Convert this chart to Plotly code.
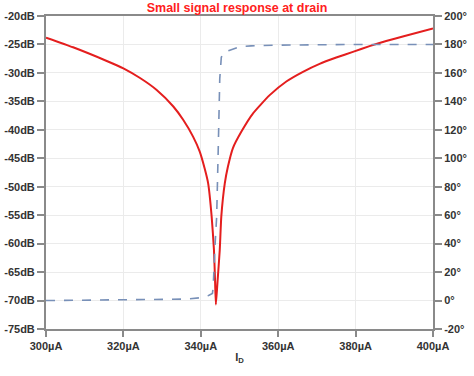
import plotly.graph_objects as go

# Magnitude (dB) vs drain current (µA)
mag_x = [300, 307, 315.7, 320, 324.3, 328.6, 332.9, 335.4, 338, 339.7, 341, 341.9,
         342.8, 343.4, 343.7, 343.9, 344.3, 344.9, 345.3, 346.2, 347.0, 348.3,
         350.5, 353.5, 357.8, 362.1, 366.4, 370.7, 375, 379.3, 383.6, 387.9, 392.2, 400]
mag_db = [-23.8, -25.5, -27.9, -29.2, -30.9, -33.0, -35.9, -38.2, -41.2, -43.8, -46.8, -49.4,
          -55.2, -61.1, -66.9, -70.7, -66.9, -61.1, -55.2, -49.4, -46.5, -43.2,
          -40.3, -37.1, -33.9, -31.5, -29.8, -28.4, -27.3, -26.3, -25.3, -24.4, -23.6, -22.2]

# Phase (degrees) vs drain current (µA)
ph_x = [300, 320, 330, 336, 340, 342, 343, 343.2, 343.6, 344.1, 344.5, 344.9, 345.3,
        346, 347.5, 350.1, 353, 360, 380, 400]
ph_deg = [0, 0.3, 0.6, 1, 2, 3.5, 5, 9, 35, 59, 106, 156, 171,
          174.5, 176, 178.4, 179, 179.5, 180, 180]

x_ticks = [300, 320, 340, 360, 380, 400]
x_labels = ["300µA", "320µA", "340µA", "360µA", "380µA", "400µA"]
db_ticks = [-20, -25, -30, -35, -40, -45, -50, -55, -60, -65, -70, -75]
db_labels = ["%ddB" % v for v in db_ticks]
deg_ticks = [200, 180, 160, 140, 120, 100, 80, 60, 40, 20, 0, -20]
deg_labels = ["%d°" % v for v in deg_ticks]

tick_font = dict(family="Liberation Sans, Arial, sans-serif", size=11, color="#333333")
axis_col = "#8a8a8a"
grid_col = "#ebebeb"

fig = go.Figure()
fig.add_trace(go.Scatter(x=ph_x, y=ph_deg, yaxis="y2", mode="lines",
                         line=dict(color="#7890b8", width=1.6, dash="dash"),
                         hoverinfo="skip"))
fig.add_trace(go.Scatter(x=mag_x, y=mag_db, mode="lines",
                         line=dict(color="#e41e1e", width=2, shape="spline", smoothing=0.5),
                         hoverinfo="skip"))

fig.update_layout(
    width=474, height=376,
    margin=dict(l=46, r=41, t=16, b=47),
    paper_bgcolor="white", plot_bgcolor="white",
    showlegend=False,
    title=dict(text="<b>Small signal response at drain</b>", x=0.5, xanchor="center",
               y=0.992, yanchor="top", automargin=False,
               font=dict(family="Liberation Sans, Arial, sans-serif", size=12.5, color="#ff2020")),
    xaxis=dict(range=[300, 400], tickvals=x_ticks, ticktext=["<b>%s</b>" % t for t in x_labels],
               showgrid=True, gridcolor=grid_col, gridwidth=1, automargin=False,
               showline=True, linecolor=axis_col, linewidth=2, mirror=True,
               ticks="outside", ticklen=6, tickcolor=axis_col, tickwidth=2,
               tickfont=tick_font, zeroline=False,
               title=dict(text="<b>I<sub>D</sub></b>", font=tick_font, standoff=2)),
    yaxis=dict(range=[-75, -20], tickvals=db_ticks, ticktext=["<b>%s</b>" % t for t in db_labels],
               showgrid=True, gridcolor=grid_col, gridwidth=1, automargin=False,
               showline=True, linecolor=axis_col, linewidth=2,
               ticks="outside", ticklen=7, tickcolor=axis_col, tickwidth=2,
               tickfont=tick_font, zeroline=False),
    yaxis2=dict(range=[-20, 200], tickvals=deg_ticks, ticktext=["<b>%s</b>" % t for t in deg_labels],
                overlaying="y", side="right", showgrid=False, automargin=False,
                showline=True, linecolor=axis_col, linewidth=2,
                ticks="outside", ticklen=7, tickcolor=axis_col, tickwidth=2,
                tickfont=tick_font, zeroline=False),
)

fig.write_html("out.html", config={"displayModeBar": False},
               post_script="document.body.style.margin='0';document.body.style.padding='0';")
